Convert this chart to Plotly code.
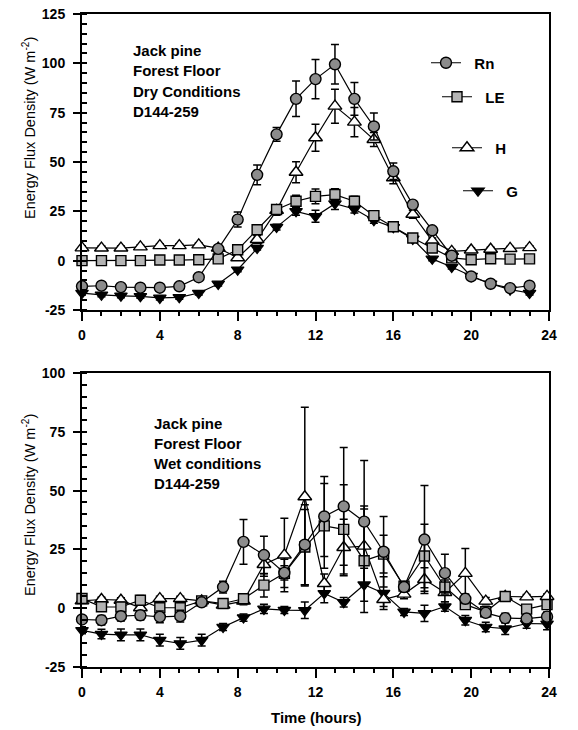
import plotly.graph_objects as go

# ---------------- Dry conditions (top panel) ----------------
dry_hours = list(range(24))
dry_rn = [-13.0, -12.7, -13.4, -13.7, -13.7, -13.0, -8.4, 6.0, 20.8, 43.5, 64.0, 82.0,
          92.0, 99.5, 82.0, 68.0, 45.3, 28.4, 15.4, 2.5, -8.0, -11.7, -13.9, -12.7]
dry_rn_err = [1.5, 1.5, 1.5, 1.5, 1.5, 1.5, 1.5, 1.5, 3.8, 5.0, 3.5, 9.0,
              10.0, 10.0, 8.3, 6.8, 4.2, 2.0, 1.5, 1.0, 1.0, 1.0, 1.0, 1.0]
dry_le = [0.0, 0.0, 0.0, 0.0, 0.3, 0.3, 0.5, 0.9, 5.5, 15.7, 25.9, 30.1,
          32.6, 33.5, 30.1, 22.8, 17.2, 11.5, 6.4, 1.4, 0.5, 1.0, 0.8, 0.9]
dry_le_err = [1.0, 1.0, 1.0, 1.0, 1.0, 1.0, 1.0, 1.0, 1.0, 1.5, 2.0, 3.0,
              3.7, 3.0, 2.5, 1.5, 1.0, 1.0, 1.0, 1.0, 1.0, 1.0, 1.0, 1.0]
dry_h = [6.5, 6.4, 6.4, 7.0, 7.6, 7.6, 8.0, 6.4, 1.5, 10.7, 25.5, 44.8,
         62.3, 78.3, 70.2, 61.4, 42.0, 23.5, 10.0, 4.7, 5.4, 5.8, 6.2, 6.6]
dry_h_err = [1.0, 1.0, 1.0, 1.0, 1.0, 1.0, 1.0, 1.0, 1.0, 2.0, 2.5, 5.3,
             6.8, 8.6, 7.4, 3.6, 3.0, 2.0, 1.5, 1.0, 1.0, 1.0, 1.0, 1.0]
dry_g = [-16.4, -17.3, -17.8, -18.1, -18.9, -18.6, -16.4, -11.8, -4.6, 6.4, 17.0, 25.0,
         22.5, 28.9, 26.2, 20.5, 16.9, 11.0, 0.9, -3.2, -7.8, -11.7, -14.7, -16.4]
dry_g_err = [1.0, 1.0, 1.0, 1.0, 1.0, 1.0, 1.0, 1.0, 1.0, 1.0, 1.5, 2.0,
             3.0, 3.0, 2.0, 1.5, 1.0, 1.0, 1.0, 1.0, 1.0, 1.0, 1.0, 1.0]

# ---------------- Wet conditions (bottom panel) ----------------
wet_hours = [0.0, 1.0, 2.0, 3.0, 4.0, 5.05, 6.15, 7.25, 8.3, 9.35, 10.4, 11.45,
             12.45, 13.45, 14.5, 15.5, 16.55, 17.6, 18.65, 19.7, 20.75, 21.75, 22.85, 23.9]
wet_rn = [-4.8, -5.1, -3.4, -3.0, -3.7, -3.4, 2.5, 9.0, 28.2, 22.6, 15.0, 27.0,
          39.0, 43.3, 36.8, 24.0, 9.0, 29.2, 14.9, 4.0, -2.0, -4.2, -4.4, -3.6]
wet_rn_err = [1.5, 2.0, 2.0, 2.0, 2.5, 2.5, 1.5, 2.5, 9.5, 8.0, 3.0, 17.0,
              17.0, 25.0, 26.0, 15.0, 2.0, 23.0, 8.0, 2.0, 1.5, 2.0, 1.5, 2.0]
wet_le = [4.1, 0.6, 0.5, 3.4, 0.2, 0.2, 3.1, 2.0, 4.0, 9.8, 14.8, 26.0,
          35.0, 33.5, 20.2, 23.0, 9.4, 22.2, 9.0, 1.5, -1.5, 5.0, -0.4, 1.5]
wet_le_err = [1.5, 1.5, 2.0, 2.0, 2.0, 2.0, 1.5, 1.5, 1.5, 5.0, 6.0, 16.0,
              18.0, 19.0, 22.0, 8.0, 2.0, 13.5, 3.0, 1.5, 1.5, 1.5, 1.5, 1.5]
wet_h = [3.1, 3.7, 3.4, 0.2, 4.1, 4.1, 3.1, 1.3, 3.0, 18.6, 22.6, 47.4,
         10.5, 25.8, 26.4, 3.7, 6.0, 12.2, 6.7, 14.8, 3.0, 5.0, 4.8, 5.0]
wet_h_err = [1.0, 1.0, 1.0, 1.0, 1.0, 1.0, 1.0, 1.0, 1.5, 5.0, 15.6, 38.0,
             4.0, 12.0, 17.0, 3.0, 2.0, 5.0, 4.0, 10.6, 1.5, 1.0, 1.0, 1.0]
wet_g = [-9.4, -11.0, -11.3, -11.3, -13.6, -15.0, -13.6, -8.0, -4.0, -0.3, -0.8, -0.9,
         6.3, 2.5, 10.0, 6.4, -1.6, -2.2, 0.7, -5.1, -8.0, -8.7, -6.5, -6.7]
wet_g_err = [1.5, 2.0, 2.5, 2.5, 2.5, 2.5, 2.5, 1.5, 1.5, 2.0, 1.5, 3.5,
             4.0, 2.0, 7.0, 7.0, 1.5, 3.5, 2.0, 2.0, 2.0, 2.5, 2.0, 2.5]

series_names = ["Rn", "LE", "H", "G"]
hour_ticks = [0, 4, 8, 12, 16, 20, 24]
dry_yticks = [-25, 0, 25, 50, 75, 100, 125]
wet_yticks = [-25, 0, 25, 50, 75, 100]

FONT = "Liberation Sans, Arial, sans-serif"

styles = {
    "Rn": dict(symbol="circle", size=11, color="#8c8c8c", line=dict(color="black", width=1.4)),
    "LE": dict(symbol="square", size=10, color="#b4b4b4", line=dict(color="black", width=1.4)),
    "H": dict(symbol="triangle-up", size=12, color="white", line=dict(color="black", width=1.4)),
    "G": dict(symbol="triangle-down", size=11, color="black", line=dict(color="black", width=1.2)),
}
legend_ids = {"Rn": "legend", "LE": "legend2", "H": "legend3", "G": "legend4"}
NBSP = "\u00a0"

fig = go.Figure()


def add_series(x, y, err, name, xa, ya, show):
    fig.add_trace(go.Scatter(
        x=x, y=y, name=NBSP * 2 + name, mode="lines+markers",
        xaxis=xa, yaxis=ya,
        line=dict(color="black", width=1.2),
        marker=styles[name],
        error_y=dict(type="data", array=err, color="black", thickness=1.5, width=4),
        cliponaxis=False,
        showlegend=show,
        legend=legend_ids[name],
    ))


dry = {"Rn": (dry_rn, dry_rn_err), "LE": (dry_le, dry_le_err),
       "H": (dry_h, dry_h_err), "G": (dry_g, dry_g_err)}
wet = {"Rn": (wet_rn, wet_rn_err), "LE": (wet_le, wet_le_err),
       "H": (wet_h, wet_h_err), "G": (wet_g, wet_g_err)}

for name in ["G", "H", "LE", "Rn"]:
    add_series(dry_hours, dry[name][0], dry[name][1], name, "x", "y", True)
for name in ["G", "H", "LE", "Rn"]:
    add_series(wet_hours, wet[name][0], wet[name][1], name, "x2", "y2", False)

W, H = 578, 730
xdom = [82 / W, 549 / W]
top_dom = [1 - 310 / H, 1 - 14 / H]
bot_dom = [1 - 667 / H, 1 - 373 / H]

tickfont = dict(family=FONT, size=14, color="black", weight="bold")


def xaxis(anchor):
    return dict(
        domain=xdom, anchor=anchor, range=[0, 24], automargin=False,
        tickvals=hour_ticks, ticktext=[str(v) for v in hour_ticks],
        ticks="outside", ticklen=9, tickwidth=1.5, tickcolor="black",
        minor=dict(dtick=1, ticks="outside", ticklen=4, tickwidth=1.5, tickcolor="black"),
        showline=True, linecolor="black", linewidth=2, mirror=True,
        showgrid=False, zeroline=False, tickfont=tickfont, ticklabelstandoff=2,
    )


def yaxis(anchor, dom, rng, ticks):
    return dict(
        domain=dom, anchor=anchor, range=rng, automargin=False,
        tickvals=ticks, ticktext=[str(v) for v in ticks],
        ticks="outside", ticklen=7, tickwidth=1.5, tickcolor="black",
        minor=dict(dtick=5, ticks="inside", ticklen=5, tickwidth=1.5, tickcolor="black"),
        showline=True, linecolor="black", linewidth=2, mirror=True,
        showgrid=False, zeroline=False, tickfont=tickfont, ticklabelstandoff=5,
    )


legend_base = dict(
    font=dict(family=FONT, size=15, color="black", weight="bold"),
    bgcolor="rgba(0,0,0,0)", borderwidth=0, xanchor="left", yanchor="middle",
    itemclick=False, itemdoubleclick=False,
)
legend_pos = {"legend": (426, 63), "legend2": (437, 97), "legend3": (447, 148), "legend4": (458, 191)}
legends = {}
for key, (px, py) in legend_pos.items():
    legends[key] = dict(legend_base, x=px / W, y=1 - py / H)

annotations = []
dry_label = ["Jack pine", "Forest Floor", "Dry Conditions", "D144-259"]
wet_label = ["Jack pine", "Forest Floor", "Wet conditions", "D144-259"]
for i, line in enumerate(dry_label):
    annotations.append(dict(
        text=line, xref="paper", yref="paper", x=131 / W, y=1 - (50 + 20.6 * i) / H,
        xanchor="left", yanchor="middle", showarrow=False,
        font=dict(family=FONT, size=15, color="black", weight="bold"),
    ))
for i, line in enumerate(wet_label):
    annotations.append(dict(
        text=line, xref="paper", yref="paper", x=152 / W, y=1 - (423 + 20 * i) / H,
        xanchor="left", yanchor="middle", showarrow=False,
        font=dict(family=FONT, size=15, color="black", weight="bold"),
    ))

ytitle = "Energy Flux Density (W m<sup>-2</sup>)"
for cy in (128, 505):
    annotations.append(dict(
        text=ytitle, xref="paper", yref="paper", x=29 / W, y=1 - cy / H,
        xanchor="center", yanchor="middle", textangle=-90, showarrow=False,
        font=dict(family=FONT, size=14.5, color="black"),
    ))
annotations.append(dict(
    text="Time (hours)", xref="paper", yref="paper", x=316 / W, y=1 - 717 / H,
    xanchor="center", yanchor="middle", showarrow=False,
    font=dict(family=FONT, size=15, color="black", weight="bold"),
))

fig.update_layout(
    width=W, height=H, autosize=False,
    margin=dict(l=0, r=0, t=0, b=0),
    paper_bgcolor="white", plot_bgcolor="white",
    font=dict(family=FONT, color="black"),
    xaxis=xaxis("y"), yaxis=yaxis("x", top_dom, [-25, 125], dry_yticks),
    xaxis2=xaxis("y2"), yaxis2=yaxis("x2", bot_dom, [-25, 100], wet_yticks),
    annotations=annotations,
    **legends,
)

fig.write_html("out.html")
